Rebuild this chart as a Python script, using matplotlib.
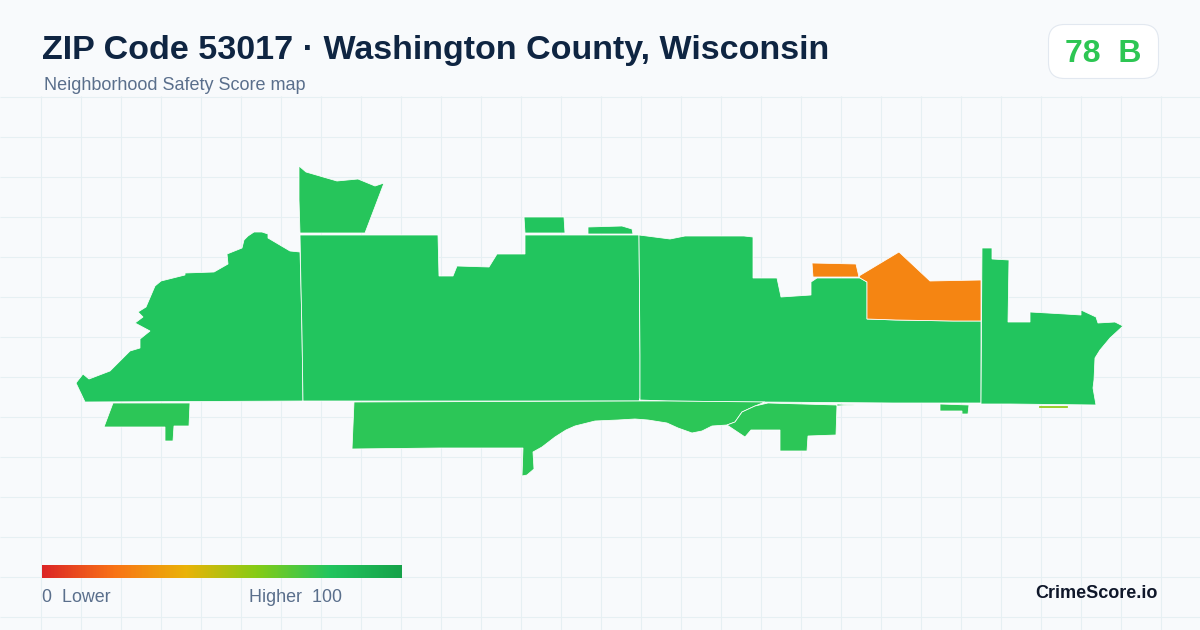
import matplotlib
matplotlib.use("Agg")
import matplotlib.pyplot as plt
import numpy as np
from matplotlib.colors import LinearSegmentedColormap
from matplotlib.patches import Polygon, FancyBboxPatch

plt.rcParams['font.family'] = ['Liberation Sans', 'DejaVu Sans']

TITLE = "ZIP Code 53017 · Washington County, Wisconsin"
SUBTITLE = "Neighborhood Safety Score map"
BADGE = "78  B"
BRAND = "CrimeScore.io"

stop_pos = [0, .2, .4, .6, .8, 1]
stop_col = ['#dc2626', '#f97316', '#eab308', '#84cc16', '#22c55e', '#16a34a']

west = [(76,383),(83,374),(89,379),(110,371),(130,351),(140,348),(140,339),(150,331),(135,323),(143,317),(138,312),(146,307),(155,286),(161,281),(185,275),(185,273),(214,272),(228,264),(227,254),(242,248),(244,240),(248,236),(254,232),(262,232),(268,234),(268,238),(290,251),(300,252),(301,287),(302,333),(303,401),(85,402)]
north_tab = [(299,166),(306,172),(337,181),(358,179),(375,186),(384,183),(365,233),(300,233),(299,200)]
central = [(300,235),(438,235),(439,276),(453,276),(457,266),(489,267),(497,254),(525,254),(525,235),(639,235),(640,355),(640,398),(639,401),(303,401),(302,333),(301,287)]
east_central = [(639,235),(670,239),(685,236),(744,236),(753,237),(753,278),(777,278),(781,297),(811,295),(811,282),(817,278),(860,278),(867,282),(867,319),(896,320),(953,321),(981,321),(981,403),(893,403),(760,402),(667,401),(640,400),(640,355)]
orange_small = [(812,263),(856,264),(859,277),(813,277)]
orange_large = [(859,276),(899,252),(930,281),(981,280),(981,321),(953,321),(896,320),(867,319),(867,282),(860,278)]
east = [(982,248),(992,248),(992,259),(1009,260),(1008,322),(1030,322),(1030,312),(1065,314),(1081,315),(1081,310),(1096,317),(1098,323),(1115,322),(1123,326),(1110,338),(1100,350),(1095,358),(1094,380),(1093,388),(1096,405),(1010,404),(981,404)]
south_center = [(354,402),(352,449),(440,448),(523,448),(522,476),(527,475),(534,469),(533,452),(542,447),(555,437),(566,430),(575,426),(595,421),(618,420),(635,419),(648,420),(667,423),(678,428),(692,433),(702,431),(712,426),(727,425),(735,422),(742,412),(755,406),(765,402),(667,401),(639,401)]
south_east = [(727,425),(745,437),(751,430),(780,430),(780,451),(807,451),(808,436),(836,435),(837,405),(768,403),(755,406),(742,412),(735,422)]
sliver = [(837,404),(855,405),(837,406)]
south_small = [(940,404),(969,405),(968,414),(962,414),(962,411),(940,411)]
yellow_sliver = [(1039,406),(1067,406),(1067,407),(1039,407)]
south_west = [(113,403),(190,403),(189,426),(174,426),(173,441),(165,441),(165,427),(104,427)]
top_a = [(524,217),(564,217),(565,233),(525,233)]
top_b = [(588,227),(622,226),(632,229),(633,234),(588,234)]

areas = [west, central, east_central, east, north_tab, top_a, top_b,
         orange_small, orange_large,
         south_center, south_east, sliver, south_small, south_west, yellow_sliver]
scores = [80, 80, 80, 80, 79, 80, 80, 25.5, 25.5, 78, 78, 78, 78, 78, 58]

cmap = LinearSegmentedColormap.from_list("score", list(zip(stop_pos, stop_col)))

fig = plt.figure(figsize=(12, 6.3), dpi=100, facecolor='#f8fafc')
ax = fig.add_axes([0, 0, 1, 1])
ax.set_axis_off()

grid_x = [40.5 + 40 * i for i in range(29)]
grid_y = [96.5 + 40 * i for i in range(14)]
ax.vlines(grid_x, 96, 630, color='#e6f0f3', lw=0.8, zorder=1)
ax.hlines(grid_y, 0, 1200, color='#e6f0f3', lw=0.8, zorder=1)

for poly, s in zip(areas, scores):
    ax.add_patch(Polygon(poly, closed=True, facecolor=cmap(s / 100),
                         edgecolor='white' if s > 60 or s < 30 else cmap(s / 100),
                         lw=0.55, joinstyle='miter', zorder=3))

ax.imshow(np.linspace(0, 1, 360)[None, :], cmap=cmap, extent=(42, 402, 578, 565),
          aspect='auto', zorder=4, interpolation='bilinear')

ax.add_patch(FancyBboxPatch((1048.5 + 16, 24.5 + 16), 110 - 32, 54 - 32,
                            boxstyle="round,pad=16,rounding_size=16",
                            facecolor='white', edgecolor='#e2e8f0', lw=0.8, zorder=4))

ax.set_xlim(0, 1200)
ax.set_ylim(630, 0)

ax.text(42, 47, TITLE, fontsize=24.45, fontweight='bold', color='#0f2542', va='center_baseline', ha='left', zorder=5)
ax.text(44, 84, SUBTITLE, fontsize=12.95, color='#5a6f8c', va='center_baseline', ha='left', zorder=5)
ax.text(1103, 50.5, BADGE, fontsize=23, fontweight='bold', color='#2dc653', va='center_baseline', ha='center', zorder=5)
ax.text(42, 596, "0  Lower", fontsize=12.9, color='#5a6f8c', va='center_baseline', ha='left', zorder=5)
ax.text(249, 596, "Higher  100", fontsize=12.9, color='#5a6f8c', va='center_baseline', ha='left', zorder=5)
ax.text(1158, 592, BRAND, fontsize=13, fontweight='bold', color='#0f172a', va='center_baseline', ha='right', zorder=5)

fig.savefig("out.png", dpi=100, facecolor=fig.get_facecolor())
